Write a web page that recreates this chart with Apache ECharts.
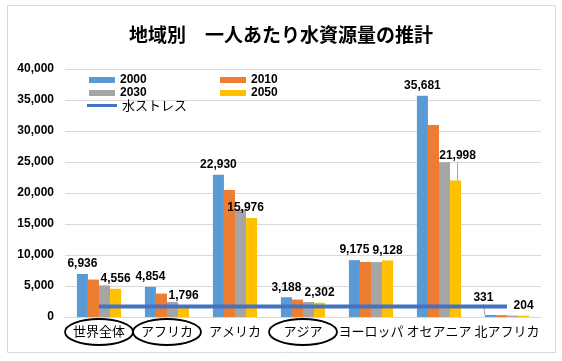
<!DOCTYPE html>
<html><head><meta charset="utf-8">
<script src="https://cdn.jsdelivr.net/npm/echarts@6/dist/echarts.min.js"></script>
<style>html,body{margin:0;padding:0;background:#fff}#c{width:562px;height:361px}</style>
</head><body><div id="c"></div>
<script>
// ---- data ----
const categories = ['世界全体', 'アフリカ', 'アメリカ', 'アジア', 'ヨーロッパ', 'オセアニア', '北アフリカ'];
const v2000 = [6936, 4854, 22930, 3188, 9175, 35681, 331];
const v2010 = [6040, 3780, 20470, 2810, 8880, 30970, 300];
const v2030 = [5100, 2430, 17350, 2420, 8860, 24940, 220];
const v2050 = [4556, 1796, 15976, 2302, 9128, 21998, 204];
const stress = [1700, 1700, 1700, 1700, 1700, 1700, 1700];
const circled = ['世界全体', 'アフリカ', 'アジア'];
const yTicks = { min: 0, max: 40000, interval: 5000 };

// ---- chart ----
const chart = echarts.init(document.getElementById('c'));
const numFmt = v => Number(v).toLocaleString('en-US');
const numFont = { fontFamily: 'Liberation Sans', fontWeight: 'bold', fontSize: 12, color: '#000' };
const jpFont = 'Noto Sans CJK JP';

// label adjustments (offsets in px, by data index), with leader line flag
const adj2000 = { 6: { dx: -7, dy: -7, line: true } };
const adj2050 = { 2: { dx: -6, dy: 0, line: false }, 5: { dx: 2, dy: -15, line: true } };

function barSeries(name, vals, color, showLabel, adj) {
  return {
    name, type: 'bar', barGap: '0%', barCategoryGap: '35%',
    itemStyle: { color },
    data: vals.map((v, i) => {
      const d = { value: v };
      if (adj && adj[i] && adj[i].line) d.labelLine = { show: true, lineStyle: { color: '#a6a6a6', width: 1 } };
      return d;
    }),
    label: { show: showLabel, position: 'top', distance: 4, formatter: p => numFmt(p.value), ...numFont },
    labelLayout: adj ? (p => adj[p.dataIndex] ? { dx: adj[p.dataIndex].dx, dy: adj[p.dataIndex].dy } : {}) : undefined
  };
}

const legendBase = { icon: 'rect', itemWidth: 26, itemHeight: 6, textStyle: { ...numFont }, selectedMode: false };

chart.setOption({
  backgroundColor: '#fff',
  animation: false,
  title: {
    text: '地域別　一人あたり水資源量の推計', left: 'center', top: 20,
    textStyle: { fontFamily: jpFont, fontSize: 19, fontWeight: 'bold', color: '#000' }
  },
  legend: [
    { ...legendBase, data: ['2000'], left: 84, top: 69 },
    { ...legendBase, data: ['2010'], left: 215, top: 69 },
    { ...legendBase, data: ['2030'], left: 84, top: 82 },
    { ...legendBase, data: ['2050'], left: 215, top: 82 },
    { ...legendBase, data: ['水ストレス'], left: 82, top: 94, itemWidth: 30, itemHeight: 3,
      textStyle: { fontFamily: jpFont, fontSize: 13, color: '#000' } }
  ],
  grid: { left: 65, right: 21, top: 69, bottom: 44 },
  xAxis: {
    type: 'category', data: categories,
    axisLine: { lineStyle: { color: '#d9d9d9' } },
    axisTick: { show: false },
    axisLabel: { interval: 0, margin: 8, fontFamily: jpFont, fontSize: 13, color: '#000' }
  },
  yAxis: {
    type: 'value', min: yTicks.min, max: yTicks.max, interval: yTicks.interval,
    axisLine: { show: false }, axisTick: { show: false },
    splitLine: { lineStyle: { color: '#d9d9d9' } },
    axisLabel: { margin: 11, formatter: v => numFmt(v), ...numFont }
  },
  series: [
    barSeries('2000', v2000, '#5B9BD5', true, adj2000),
    barSeries('2010', v2010, '#ED7D31', false),
    barSeries('2030', v2030, '#A5A5A5', false),
    barSeries('2050', v2050, '#FFC000', true, adj2050),
    { name: '水ストレス', type: 'line', data: stress, symbol: 'none', z: 5,
      lineStyle: { width: 4, color: '#4472C4' }, itemStyle: { color: '#4472C4' } }
  ]
});

const y0 = chart.convertToPixel({ yAxisIndex: 0 }, 0);
const ellipses = circled.map(name => ({
  type: 'ellipse', silent: true,
  shape: { cx: chart.convertToPixel({ xAxisIndex: 0 }, name), cy: y0 + 15, rx: 34, ry: 13 },
  style: { fill: null, stroke: '#000', lineWidth: 1.8 }
}));
chart.setOption({
  graphic: [
    { type: 'rect', silent: true, shape: { x: 7.5, y: 5.5, width: 548, height: 347 },
      style: { fill: null, stroke: '#d9d9d9', lineWidth: 1 } },
    ...ellipses
  ]
});
</script></body></html>
